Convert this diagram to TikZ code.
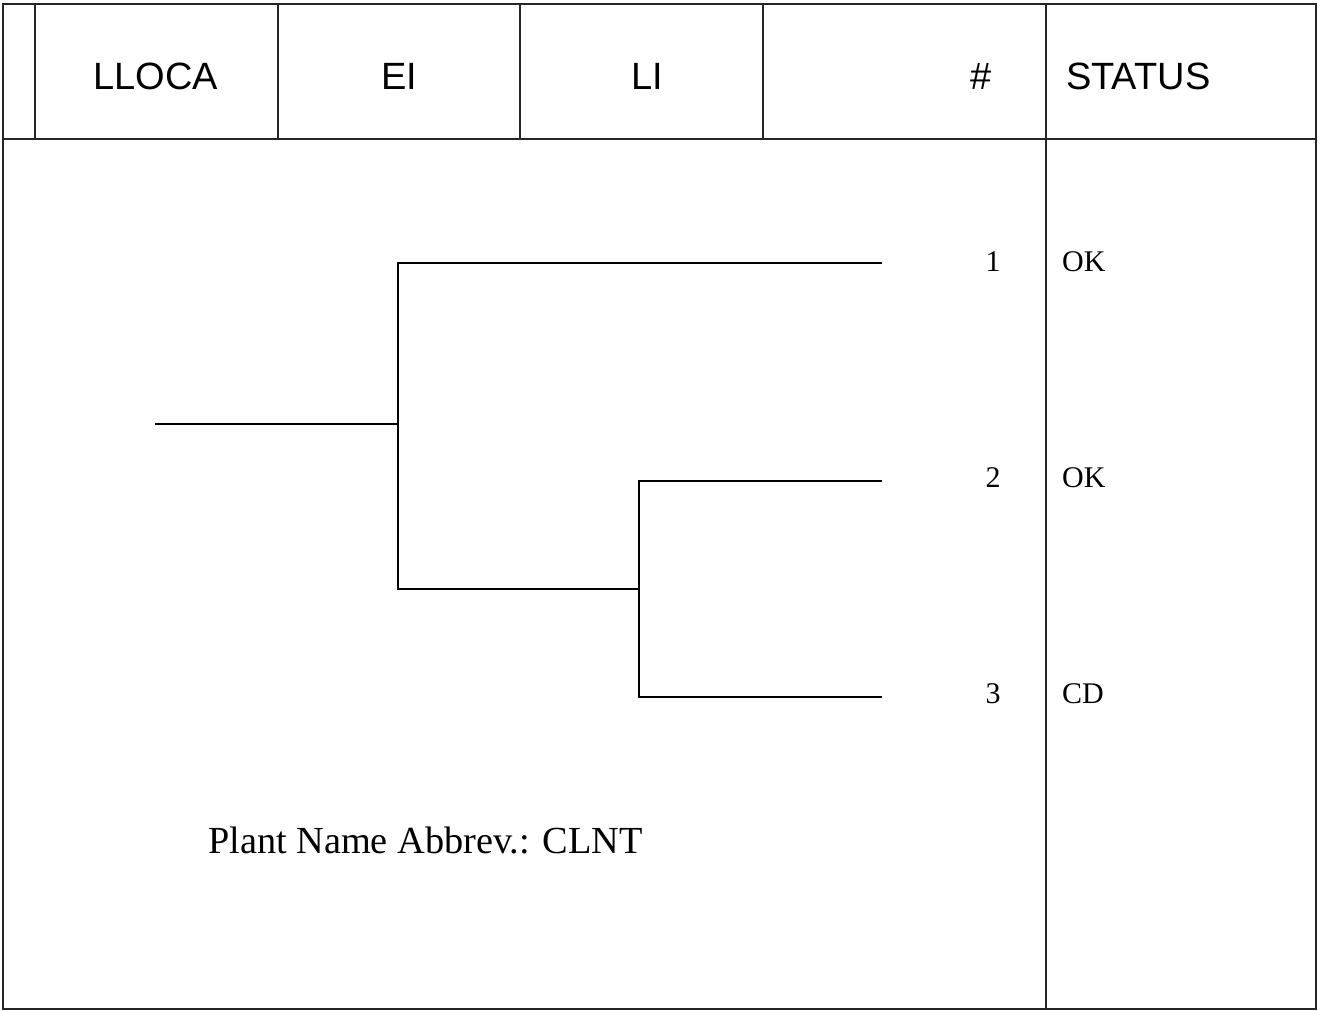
\documentclass[tikz,border=0pt]{standalone}
\usepackage{fontspec}
\setmainfont{Liberation Serif}
\newfontfamily\hdrfont{Liberation Sans}
\begin{document}
\begin{tikzpicture}[x=1pt,y=-1pt,
  grid/.style={line width=1.2pt,draw=black!85},
  branch/.style={line width=2.6pt,black},
  hdr/.style={font=\hdrfont\fontsize{38}{40}\selectfont,anchor=base,inner sep=0pt},
  lbl/.style={font=\fontsize{30}{32}\selectfont,anchor=base,inner sep=0pt},
  big/.style={font=\fontsize{38.3}{42}\selectfont,anchor=base west,inner sep=0pt}]
\useasboundingbox (0,0) rectangle (1324,1011);
% table
\draw[grid] (3,4) rectangle (1316,1009);
\draw[grid] (3,139) -- (1316,139);
\foreach \x in {35,278,520,763} \draw[grid] (\x,4) -- (\x,139);
\draw[grid] (1046,4) -- (1046,1009);
% headers
\node[hdr] (hA) at (156,90) {LLOCA};
\node[hdr] (hB) at (399,90) {EI};
\node[hdr] (hC) at (647,90) {LI};
\node[hdr] (hD) at (981,90) {\#};
\node[hdr,anchor=base west] (hE) at (1066,90) {STATUS};
% tree
\coordinate (s0) at (155,424);
\coordinate (j1) at (398,424);
\coordinate (j1t) at (398,263);
\coordinate (j1b) at (398,589);
\coordinate (j2) at (639,589);
\coordinate (j2t) at (639,481);
\coordinate (j2b) at (639,697);
\coordinate (e1) at (882,263);
\coordinate (e2) at (882,481);
\coordinate (e3) at (882,697);
\draw[branch] (s0) -- (j1);
\draw[branch,line cap=rect] (j1t) -- (j1b);
\draw[branch] (j1t) -- (e1);
\draw[branch] (j1b) -- (j2);
\draw[branch,line cap=rect] (j2t) -- (j2b);
\draw[branch] (j2t) -- (e2);
\draw[branch] (j2b) -- (e3);
% sequence labels
\node[lbl] (n1) at (993,271) {1};
\node[lbl] (n2) at (993,487) {2};
\node[lbl] (n3) at (993,703) {3};
\node[lbl,anchor=base west] (st1) at (1062,271) {OK};
\node[lbl,anchor=base west] (st2) at (1062,487) {OK};
\node[lbl,anchor=base west] (st3) at (1062,703) {CD};
\node[big] (pn) at (208,853) {Plant Name Abbrev.: CLNT};
\end{tikzpicture}
\end{document}
